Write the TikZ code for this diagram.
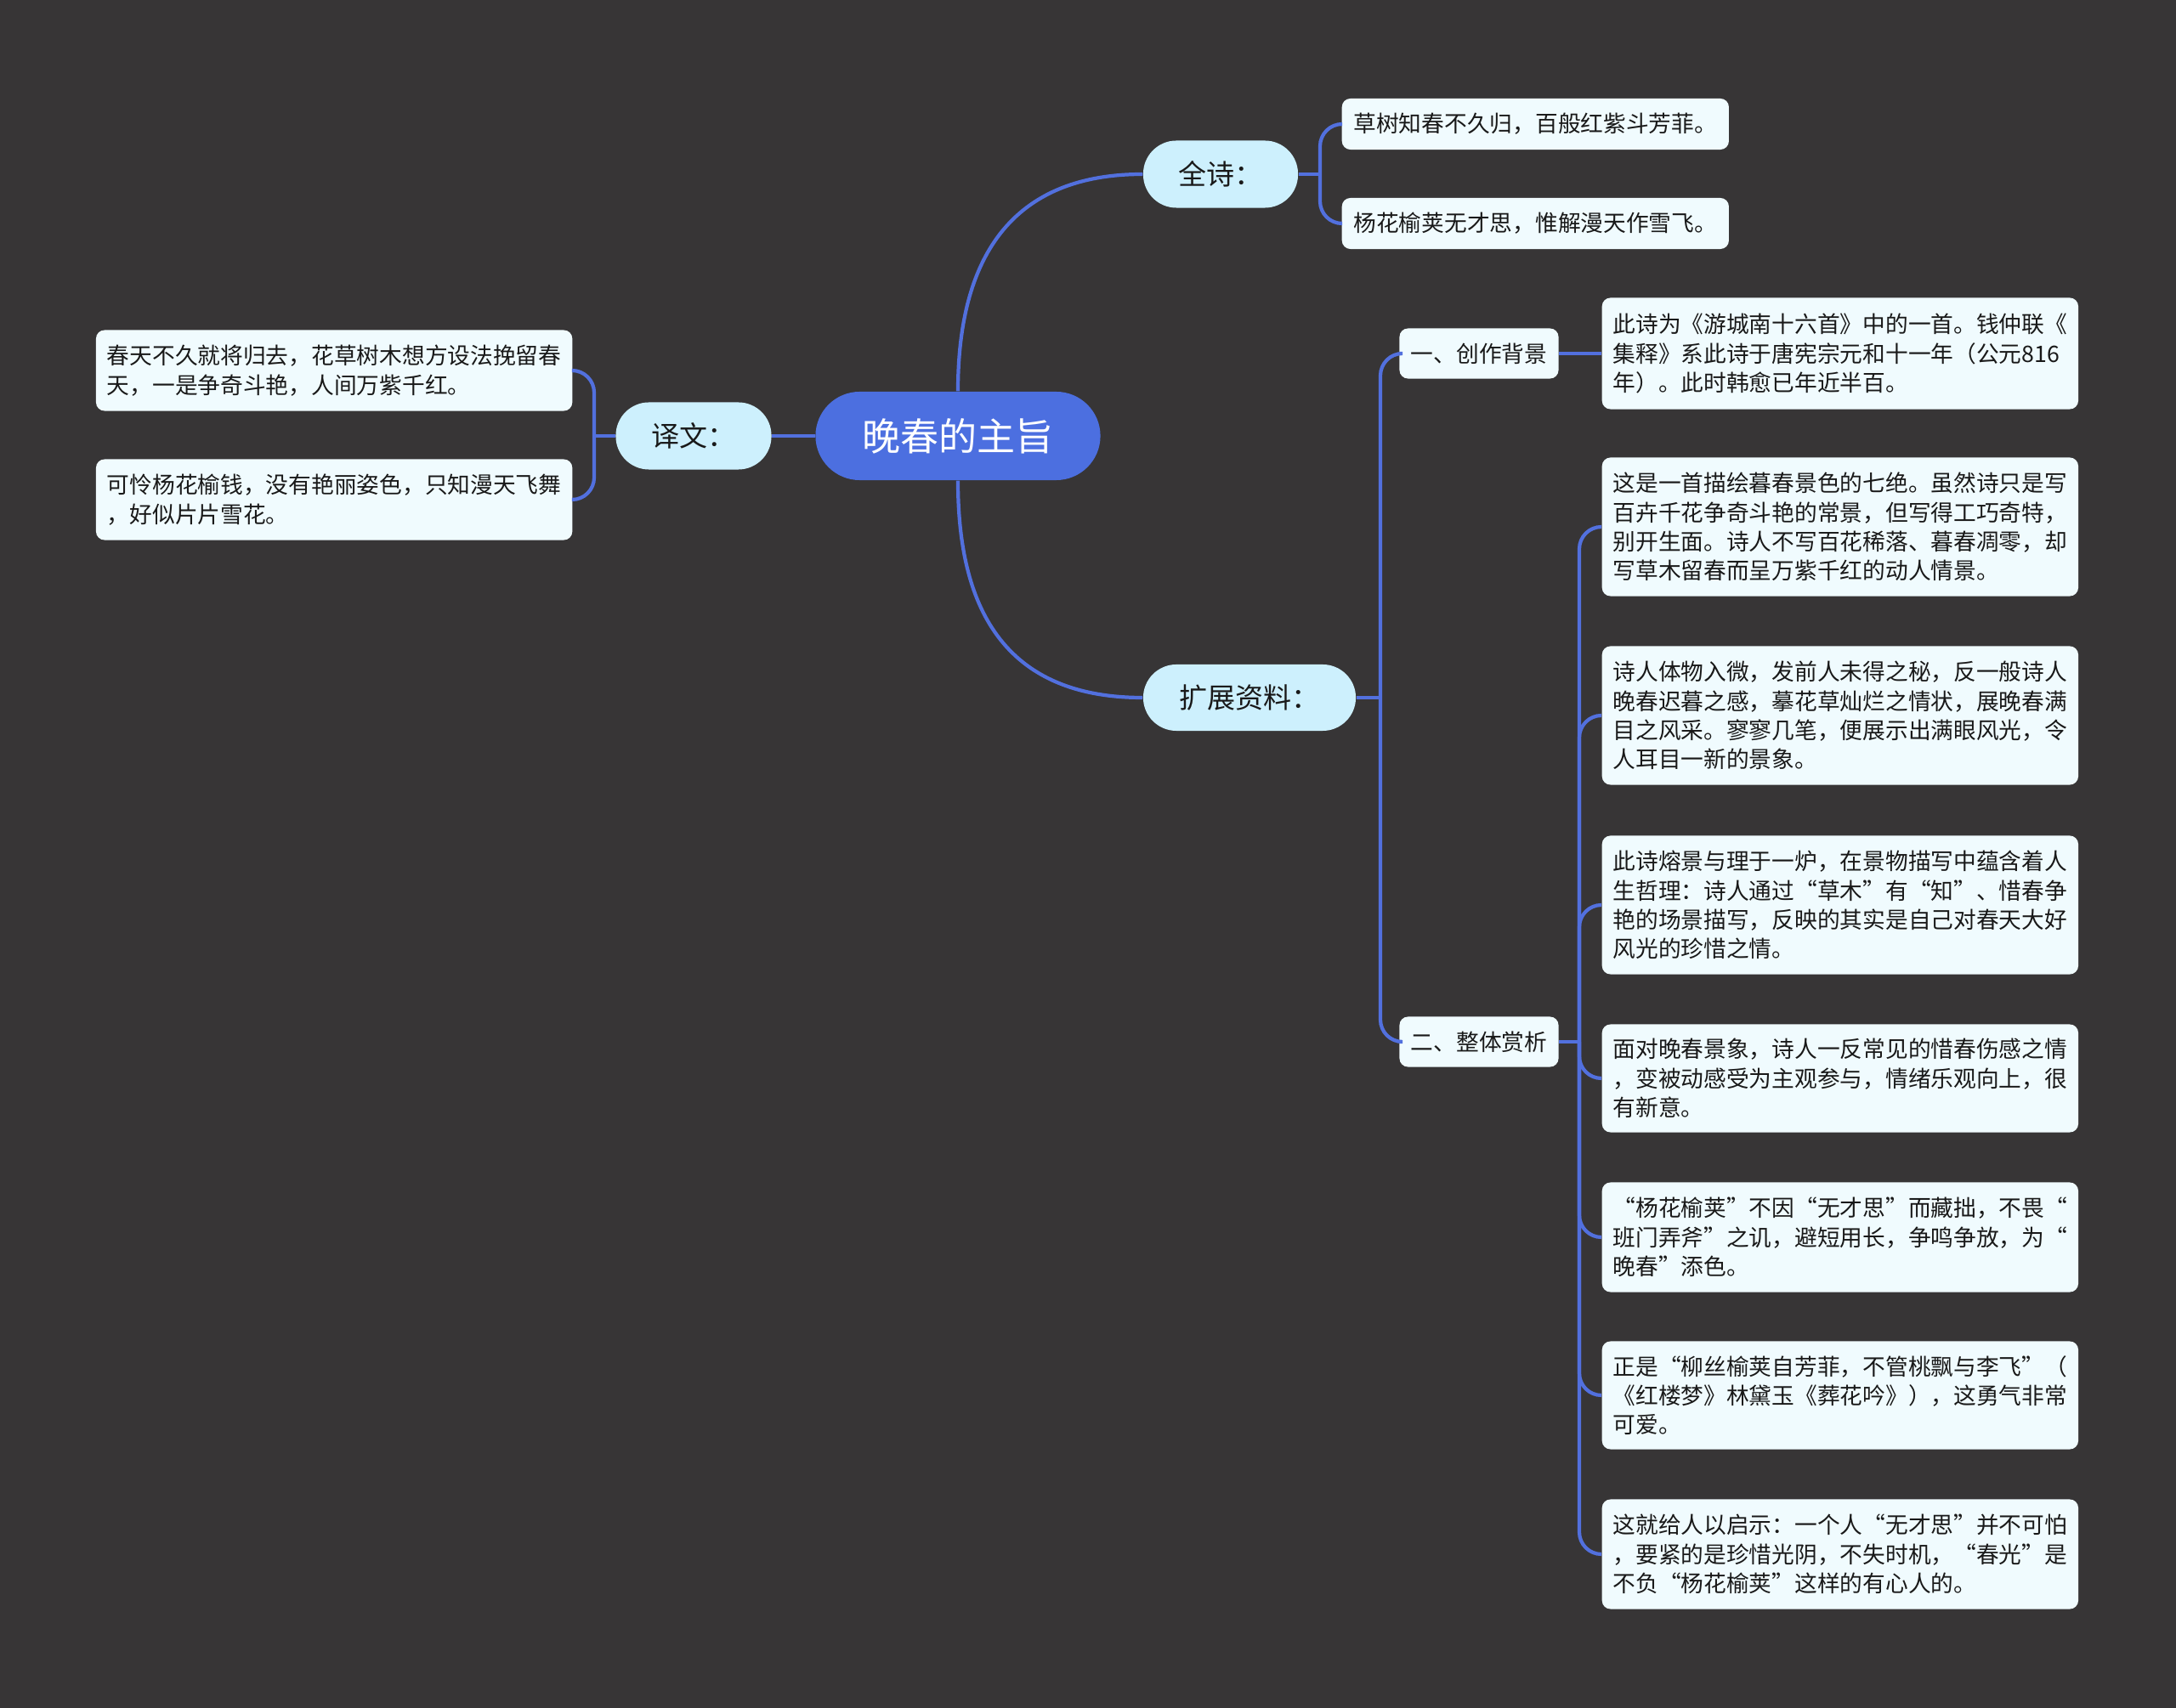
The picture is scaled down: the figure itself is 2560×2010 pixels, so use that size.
\documentclass[tikz,border=0pt]{standalone}
\usepackage{fontspec}
\setmainfont{Noto Sans CJK SC}
\definecolor{bgc}{RGB}{55,53,54}
\definecolor{rootc}{RGB}{76,111,224}
\definecolor{linec}{RGB}{82,112,222}
\definecolor{lonec}{RGB}{205,240,253}
\definecolor{leafc}{RGB}{240,251,254}
\definecolor{txtc}{RGB}{25,25,25}
\begin{document}
\begin{tikzpicture}[x=0.01cm,y=-0.01cm,
 rootnode/.style={fill=rootc, text=white, rounded corners=0.52cm, minimum width=3.35cm, minimum height=1.04cm, inner sep=0pt, font=\fontsize{12.8pt}{15pt}\selectfont},
 lonenode/.style={fill=lonec, text=txtc, rounded corners=0.39cm, minimum height=0.79cm, inner sep=0pt, font=\fontsize{9.4pt}{11pt}\selectfont},
 ltwonode/.style={fill=leafc, text=txtc, rounded corners=0.1cm, minimum width=1.87cm, minimum height=0.59cm, inner sep=0pt, font=\fontsize{7.6pt}{9.75pt}\selectfont},
 leafnode/.style={fill=leafc, text=txtc, rounded corners=0.1cm, minimum width=5.6cm, inner sep=0pt, align=left, font=\fontsize{7.6pt}{9.75pt}\selectfont},
 conn/.style={draw=linec, line width=1.2pt},
 brk/.style={conn, rounded corners=0.26cm},
]
\fill[bgc] (0,0) rectangle (2560,2010);
\useasboundingbox (0,0) rectangle (2560,2010);

% nodes
\node[rootnode] (root) at (1127,513) {晚春的主旨};
\node[lonenode, minimum width=1.82cm] (quanshi) at (1436,205) {全诗：};
\node[lonenode, minimum width=1.83cm] (yiwen) at (816,513) {译文：};
\node[lonenode, minimum width=2.50cm, minimum height=0.78cm] (kuozhan) at (1470,821) {扩展资料：};

\node[leafnode, minimum width=4.55cm, minimum height=0.60cm, anchor=west] (q1) at (1578,146) {草树知春不久归，百般红紫斗芳菲。};
\node[leafnode, minimum width=4.55cm, minimum height=0.60cm, anchor=west] (q2) at (1578,263) {杨花榆荚无才思，惟解漫天作雪飞。};

\node[leafnode, minimum height=0.95cm, anchor=east] (y1) at (674,436) {春天不久就将归去，花草树木想方设法挽留春\\天，一是争奇斗艳，人间万紫千红。};
\node[leafnode, minimum height=0.95cm, anchor=east] (y2) at (674,588) {可怜杨花榆钱，没有艳丽姿色，只知漫天飞舞\\，好似片片雪花。};

\node[ltwonode] (c1) at (1740,416) {一、创作背景};
\node[ltwonode] (c2) at (1740,1226) {二、整体赏析};

\node[leafnode, minimum height=1.31cm, anchor=west] (b1) at (1884,416) {此诗为《游城南十六首》中的一首。钱仲联《\\集释》系此诗于唐宪宗元和十一年（公元816\\年）。此时韩愈已年近半百。};

\node[leafnode, minimum height=1.63cm, anchor=west] (z1) at (1884,620) {这是一首描绘暮春景色的七绝。虽然诗只是写\\百卉千花争奇斗艳的常景，但写得工巧奇特，\\别开生面。诗人不写百花稀落、暮春凋零，却\\写草木留春而呈万紫千红的动人情景。};
\node[leafnode, minimum height=1.63cm, anchor=west] (z2) at (1884,842) {诗人体物入微，发前人未得之秘，反一般诗人\\晚春迟暮之感，摹花草灿烂之情状，展晚春满\\目之风采。寥寥几笔，便展示出满眼风光，令\\人耳目一新的景象。};
\node[leafnode, minimum height=1.63cm, anchor=west] (z3) at (1884,1065) {此诗熔景与理于一炉，在景物描写中蕴含着人\\生哲理：诗人通过“草木”有“知”、惜春争\\艳的场景描写，反映的其实是自己对春天大好\\风光的珍惜之情。};
\node[leafnode, minimum height=1.27cm, anchor=west] (z4) at (1884,1269) {面对晚春景象，诗人一反常见的惜春伤感之情\\，变被动感受为主观参与，情绪乐观向上，很\\有新意。};
\node[leafnode, minimum height=1.29cm, anchor=west] (z5) at (1884,1456) {“杨花榆荚”不因“无才思”而藏拙，不畏“\\班门弄斧”之讥，避短用长，争鸣争放，为“\\晚春”添色。};
\node[leafnode, minimum height=1.27cm, anchor=west] (z6) at (1884,1642) {正是“柳丝榆荚自芳菲，不管桃飘与李飞”（\\《红楼梦》林黛玉《葬花吟》），这勇气非常\\可爱。};
\node[leafnode, minimum height=1.29cm, anchor=west] (z7) at (1884,1829) {这就给人以启示：一个人“无才思”并不可怕\\，要紧的是珍惜光阴，不失时机，“春光”是\\不负“杨花榆荚”这样的有心人的。};

% bracket coordinates
\coordinate (qb) at (1553,205);
\coordinate (yb) at (699,513);
\coordinate (kb) at (1624,821);
\coordinate (zb) at (1858,1226);

% connectors
\draw[conn] (root.north) .. controls (1127,330) and (1170,205) .. (quanshi.west);
\draw[conn] (root.south) .. controls (1127,700) and (1170,821) .. (kuozhan.west);
\draw[conn] (root.west) -- (yiwen.east);

\draw[conn] (quanshi.east) -- (qb);
\draw[brk] (qb) |- (q1.west);
\draw[brk] (qb) |- (q2.west);

\draw[conn] (yiwen.west) -- (yb);
\draw[brk] (yb) |- (y1.east);
\draw[brk] (yb) |- (y2.east);

\draw[conn] (kuozhan.east) -- (kb);
\draw[brk] (kb) |- (c1.west);
\draw[brk] (kb) |- (c2.west);

\draw[conn] (c1.east) -- (b1.west);

\draw[conn] (c2.east) -- (zb);
\foreach \n in {z1,z2,z3,z4,z5,z6,z7}{
  \draw[brk] (zb) |- (\n.west);
}
\end{tikzpicture}
\end{document}
